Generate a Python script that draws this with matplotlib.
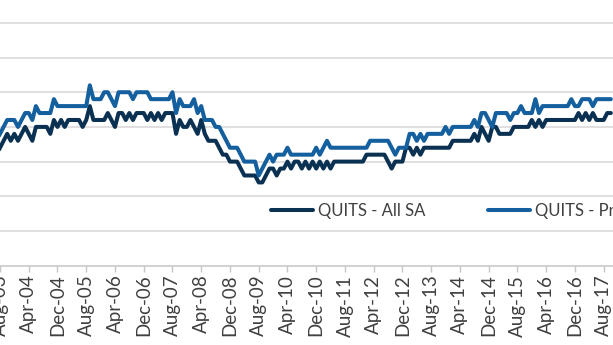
import matplotlib
matplotlib.use("Agg")
import matplotlib.pyplot as plt
import numpy as np

# monthly quits rates, Jul-03 .. Oct-17 (percent)
quits_all = [
    1.6, 1.7, 1.8, 1.9, 1.8, 1.9,                                  # Jul-Dec 03
    1.8, 1.9, 2.0, 1.9, 1.8, 2.0, 2.0, 2.0, 2.0, 1.9, 2.1, 2.0,    # 04
    2.1, 2.0, 2.1, 2.1, 2.1, 2.1, 2.0, 2.1, 2.3, 2.1, 2.1, 2.1,    # 05
    2.1, 2.2, 2.1, 2.0, 2.2, 2.2, 2.1, 2.2, 2.1, 2.2, 2.2, 2.2,    # 06
    2.1, 2.2, 2.1, 2.2, 2.1, 2.2, 2.2, 2.2, 1.9, 2.1, 2.0, 2.0,    # 07
    2.1, 2.0, 1.9, 2.1, 1.9, 1.8, 1.8, 1.8, 1.7, 1.6, 1.6, 1.5,    # 08
    1.5, 1.5, 1.4, 1.3, 1.3, 1.3, 1.3, 1.2, 1.2, 1.3, 1.4, 1.4,    # 09
    1.3, 1.4, 1.4, 1.5, 1.4, 1.5, 1.5, 1.4, 1.5, 1.4, 1.5, 1.4,    # 10
    1.5, 1.4, 1.5, 1.4, 1.5, 1.5, 1.5, 1.5, 1.5, 1.5, 1.5, 1.5,    # 11
    1.5, 1.6, 1.6, 1.6, 1.6, 1.6, 1.6, 1.5, 1.4, 1.5, 1.5, 1.5,    # 12
    1.7, 1.7, 1.6, 1.7, 1.6, 1.7, 1.7, 1.7, 1.7, 1.7, 1.7, 1.7,    # 13
    1.7, 1.8, 1.8, 1.8, 1.8, 1.8, 1.8, 1.9, 1.8, 2.0, 1.9, 1.8,    # 14
    2.0, 2.0, 1.9, 1.9, 1.9, 1.9, 2.0, 2.0, 2.0, 2.0, 2.0, 2.1,    # 15
    2.0, 2.1, 2.0, 2.1, 2.1, 2.1, 2.1, 2.1, 2.1, 2.1, 2.1, 2.1,    # 16
    2.2, 2.1, 2.2, 2.1, 2.2, 2.1, 2.1, 2.1, 2.2, 2.2,              # Jan-Oct 17
]
quits_private = [
    1.8, 1.9, 2.0, 2.1, 2.1, 2.1,
    2.0, 2.1, 2.2, 2.2, 2.1, 2.3, 2.2, 2.2, 2.2, 2.2, 2.4, 2.3,
    2.3, 2.3, 2.3, 2.3, 2.3, 2.3, 2.3, 2.3, 2.6, 2.4, 2.4, 2.4,
    2.5, 2.5, 2.4, 2.3, 2.5, 2.5, 2.5, 2.5, 2.4, 2.5, 2.5, 2.5,
    2.5, 2.4, 2.4, 2.4, 2.4, 2.4, 2.4, 2.5, 2.2, 2.4, 2.3, 2.3,
    2.3, 2.4, 2.2, 2.3, 2.1, 2.1, 2.1, 2.0, 2.0, 1.9, 1.8, 1.7,
    1.7, 1.7, 1.6, 1.5, 1.5, 1.5, 1.5, 1.3, 1.4, 1.5, 1.6, 1.5,
    1.6, 1.6, 1.6, 1.7, 1.6, 1.6, 1.6, 1.6, 1.6, 1.6, 1.6, 1.7,
    1.6, 1.7, 1.8, 1.7, 1.7, 1.7, 1.7, 1.7, 1.7, 1.7, 1.7, 1.7,
    1.7, 1.7, 1.8, 1.8, 1.8, 1.8, 1.8, 1.8, 1.7, 1.6, 1.7, 1.7,
    1.7, 1.9, 1.9, 1.8, 1.9, 1.8, 1.9, 1.9, 1.9, 1.9, 1.9, 2.0,
    1.9, 2.0, 2.0, 2.0, 2.0, 2.0, 2.0, 2.1, 2.0, 2.2, 2.2, 2.1,
    2.0, 2.2, 2.2, 2.2, 2.2, 2.1, 2.2, 2.2, 2.3, 2.2, 2.2, 2.2,
    2.4, 2.2, 2.3, 2.3, 2.3, 2.3, 2.3, 2.3, 2.3, 2.3, 2.4, 2.3,
    2.3, 2.4, 2.4, 2.4, 2.3, 2.4, 2.4, 2.4, 2.4, 2.4,
]
first_month = -1          # Jul-03, counted from Aug-03
tick_labels = ["Aug-03", "Apr-04", "Dec-04", "Aug-05", "Apr-06", "Dec-06",
               "Aug-07", "Apr-08", "Dec-08", "Aug-09", "Apr-10", "Dec-10",
               "Aug-11", "Apr-12", "Dec-12", "Aug-13", "Apr-14", "Dec-14",
               "Aug-15", "Apr-16", "Dec-16", "Aug-17"]
series_names = ["QUITS - All SA", "QUITS - Private SA"]

assert len(quits_all) == len(quits_private)
months = np.arange(len(quits_all)) + first_month

plt.rcParams['font.family'] = ['Lato', 'DejaVu Sans']
txt = '#404040'

fig = plt.figure(figsize=(6.13, 3.45), dpi=100)
ax = fig.add_axes([0, 1 - 265.7 / 345, 1, 265.7 / 345])

ax.plot(months, quits_all, color='#0b3152', lw=2.9, solid_joinstyle='round',
        solid_capstyle='round', label=series_names[0], zorder=3)
ax.plot(months, quits_private, color='#145f9d', lw=2.9, solid_joinstyle='round',
        solid_capstyle='round', label=series_names[1], zorder=3)

ax.set_xlim(0.28, 170.6)
ax.set_ylim(0, 3.829)
ax.set_yticks(np.arange(0.5, 3.6, 0.5))
ax.yaxis.grid(True, color='#d9d6d6', lw=1.1)
ax.tick_params(axis='y', left=False, labelleft=False)
ax.set_xticks(np.arange(len(tick_labels)) * 8)
ax.set_xticklabels(tick_labels, rotation=90, fontsize=13.5, color=txt)
ax.tick_params(axis='x', direction='out', length=4.5, width=1, color='#c8c4c4', pad=2)
for s in ['top', 'left', 'right']:
    ax.spines[s].set_visible(False)
ax.spines['bottom'].set_color('#c8c4c4')
ax.spines['bottom'].set_linewidth(1.1)

leg = ax.legend(ncol=2, loc='center left', bbox_to_anchor=(271 / 613, 1 - 210.7 / 345),
                bbox_transform=fig.transFigure, frameon=False, fontsize=12,
                handlelength=2.5, handletextpad=0.3, columnspacing=3.8,
                borderpad=0, borderaxespad=0)
for t in leg.get_texts():
    t.set_color(txt)

fig.savefig('out.png', dpi=100)
